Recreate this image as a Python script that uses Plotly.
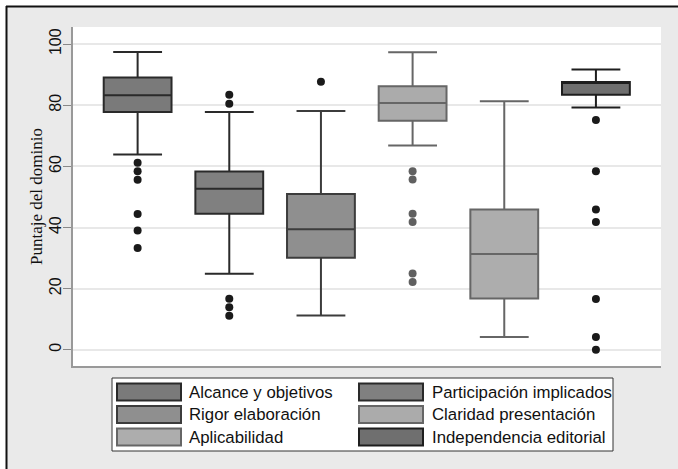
import plotly.graph_objects as go

# ---------------- data ----------------
categories = ["Alcance y objetivos", "Participación implicados", "Rigor elaboración",
              "Claridad presentación", "Aplicabilidad", "Independencia editorial"]
q1 = [77.8, 44.5, 30.1, 74.9, 16.8, 83.4]
median = [83.3, 52.7, 39.4, 80.7, 31.3, 87.5]
q3 = [89.1, 58.3, 51.0, 86.2, 45.9, 87.6]
lower_whisker = [63.9, 24.9, 11.2, 66.8, 4.2, 79.3]
upper_whisker = [97.4, 77.8, 78.1, 97.3, 81.3, 91.7]
outliers = [
    [61.2, 58.4, 55.6, 44.4, 39.0, 33.3],
    [83.4, 80.5, 16.7, 13.9, 11.1],
    [87.7],
    [58.4, 55.7, 44.5, 41.8, 25.0, 22.2],
    [],
    [75.2, 58.4, 45.9, 41.8, 16.6, 4.2, 0.0],
]
y_ticks = [0, 20, 40, 60, 80, 100]
y_title = "Puntaje del dominio"

# ---------------- styles ----------------
fills = ["#7a7a7a", "#808080", "#8f8f8f", "#ababab", "#adadad", "#6f6f6f"]
edges = ["#2a2a2a", "#2a2a2a", "#3c3c3c", "#666666", "#666666", "#1e1e1e"]
dot_colors = ["#1a1a1a", "#1a1a1a", "#1a1a1a", "#606060", "#606060", "#1a1a1a"]

W, H = 678, 469
PX0, PX1, PY0, PY1 = 73, 661, 27, 366


def pxx(p):
    return (p - PX0) / (PX1 - PX0)


def pxy(p):
    return (PY1 - p) / (PY1 - PY0)


fig = go.Figure()
for i, name in enumerate(categories):
    fig.add_trace(go.Box(
        x=[i], q1=[q1[i]], median=[median[i]], q3=[q3[i]],
        lowerfence=[lower_whisker[i]], upperfence=[upper_whisker[i]],
        name=name, boxpoints=False, width=0.74, whiskerwidth=0.72,
        fillcolor=fills[i], line=dict(color=edges[i], width=2),
        showlegend=False, hoverinfo="skip",
    ))
    if outliers[i]:
        fig.add_trace(go.Scatter(
            x=[i] * len(outliers[i]), y=outliers[i], mode="markers",
            marker=dict(color=dot_colors[i], size=8),
            showlegend=False, hoverinfo="skip",
        ))

shapes = []
annotations = []

# outer frame
shapes.append(dict(type="rect", xref="paper", yref="paper",
                   x0=pxx(0), x1=pxx(W), y0=pxy(0), y1=pxy(6),
                   fillcolor="white", line=dict(width=0), layer="below"))
shapes.append(dict(type="rect", xref="paper", yref="paper",
                   x0=pxx(0), x1=pxx(6), y0=pxy(0), y1=pxy(H),
                   fillcolor="white", line=dict(width=0), layer="below"))
shapes.append(dict(type="line", xref="paper", yref="paper",
                   x0=pxx(6), x1=pxx(W), y0=pxy(6.5), y1=pxy(6.5),
                   line=dict(color="#111111", width=2)))
shapes.append(dict(type="line", xref="paper", yref="paper",
                   x0=pxx(6.5), x1=pxx(6.5), y0=pxy(6), y1=pxy(H),
                   line=dict(color="#111111", width=2)))

# manual legend
shapes.append(dict(type="rect", xref="paper", yref="paper",
                   x0=pxx(112), x1=pxx(613), y0=pxy(378), y1=pxy(451),
                   fillcolor="white", line=dict(color="#333333", width=1)))
col_sw_x = [117, 359]
col_tx_x = [187, 430]
row_y = [383.5, 406, 428.5]
for i, name in enumerate(categories):
    r, c = i // 2, i % 2
    shapes.append(dict(type="rect", xref="paper", yref="paper",
                       x0=pxx(col_sw_x[c]), x1=pxx(col_sw_x[c] + 64),
                       y0=pxy(row_y[r]), y1=pxy(row_y[r] + 17),
                       fillcolor=fills[i], line=dict(color=edges[i], width=2)))
    annotations.append(dict(xref="paper", yref="paper",
                            x=pxx(col_tx_x[c]), y=pxy(row_y[r] + 8.5),
                            text=name, showarrow=False, xanchor="left", yanchor="middle",
                            font=dict(family="Liberation Sans, Arial, sans-serif",
                                      size=16.8, color="#111111")))

fig.update_layout(
    width=W, height=H,
    margin=dict(l=PX0, r=W - PX1, t=PY0, b=H - PY1),
    paper_bgcolor="#eaeaea", plot_bgcolor="white",
    shapes=shapes, annotations=annotations,
    showlegend=False,
    font=dict(family="Liberation Sans, Arial, sans-serif", color="#111111"),
)
fig.update_xaxes(range=[-0.705, 5.71], showticklabels=False, showgrid=False,
                 zeroline=False, showline=True, linecolor="#999999", linewidth=1.5,
                 ticks="")
fig.update_yaxes(range=[-5.3, 105.6], tickvals=y_ticks, tickangle=-90,
                 ticks="outside", ticklen=8, tickcolor="#888888", tickwidth=1,
                 ticklabelstandoff=-4,
                 tickfont=dict(size=16, family="Liberation Sans, Arial, sans-serif",
                               color="#111111"),
                 showgrid=True, gridcolor="#e8e8e8", gridwidth=1.5,
                 zeroline=False, showline=True, linecolor="#999999", linewidth=1.5,
                 title=dict(text=y_title, standoff=0,
                            font=dict(family="Liberation Serif, Times New Roman, serif",
                                      size=17, color="#111111")))

fig.write_html("out.html", config={"displayModeBar": False},
               post_script="document.body.style.margin='0';document.body.style.padding='0';")
